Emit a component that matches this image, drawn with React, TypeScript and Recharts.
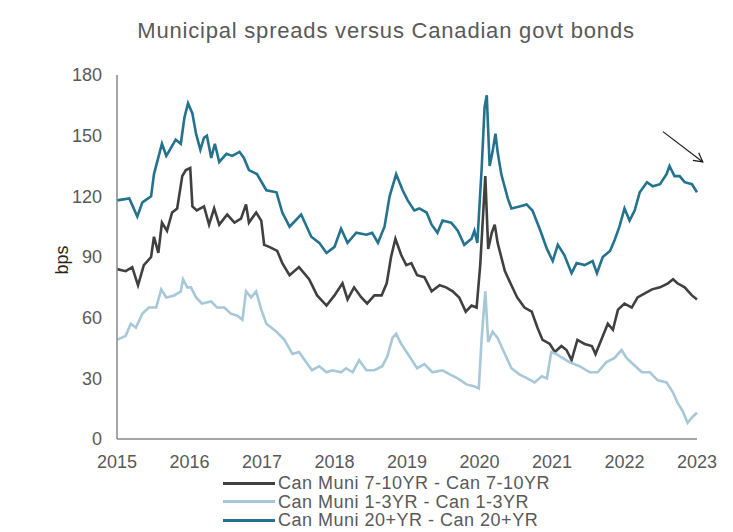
import { Line, LineChart, ReferenceLine, XAxis, YAxis } from "recharts";

const FONT = '"Liberation Sans", Arial, sans-serif';
const TEXT = "#595959";

const title = "Municipal spreads versus Canadian govt bonds";
const yearTicks = [2015, 2016, 2017, 2018, 2019, 2020, 2021, 2022, 2023];
const bpsTicks = [0, 30, 60, 90, 120, 150, 180];

// Can Muni 7-10YR - Can 7-10YR
const mid710Dates = [
  2015.0, 2015.12, 2015.21, 2015.29, 2015.37, 2015.47, 2015.51, 2015.57, 2015.62, 2015.69, 2015.76, 2015.83, 2015.9, 2015.95,
  2016.01, 2016.04, 2016.1, 2016.2, 2016.27, 2016.34, 2016.41, 2016.52, 2016.62, 2016.71, 2016.78, 2016.82, 2016.92, 2016.99,
  2017.03, 2017.1, 2017.21, 2017.28, 2017.38, 2017.51, 2017.65, 2017.76, 2017.89,
  2018.0, 2018.11, 2018.18, 2018.27, 2018.37, 2018.45, 2018.55, 2018.65, 2018.72, 2018.78, 2018.84, 2018.92, 2018.99,
  2019.06, 2019.14, 2019.24, 2019.34, 2019.45, 2019.54, 2019.63, 2019.72, 2019.81, 2019.89, 2019.96,
  2020.01, 2020.08, 2020.12, 2020.17, 2020.21, 2020.25, 2020.35, 2020.44, 2020.52, 2020.62, 2020.72, 2020.8, 2020.87, 2020.97,
  2021.04, 2021.13, 2021.2, 2021.27, 2021.35, 2021.45, 2021.55, 2021.6, 2021.69, 2021.77, 2021.84, 2021.91,
  2022.0, 2022.1, 2022.18, 2022.28, 2022.38, 2022.49, 2022.6, 2022.67, 2022.73, 2022.83, 2022.93, 2023.0,
];
const mid710Bps = [
  84, 83, 85, 76, 86, 90, 100, 92, 107, 103, 112, 114, 130, 133,
  134, 115, 113, 115, 106, 114, 106, 111, 107, 109, 116, 107, 112, 108,
  96, 95, 93, 87, 81, 85, 79, 71, 66,
  71, 77, 69, 75, 70, 67, 71, 71, 77, 90, 99, 91, 86,
  87, 81, 80, 73, 76, 75, 73, 70, 63, 66, 65,
  86, 130, 94, 102, 106, 97, 83, 76, 70, 65, 63, 55, 49, 47,
  43, 46, 44, 39, 49, 47, 46, 42, 50, 57, 54, 64,
  67, 65, 70, 72, 74, 75, 77, 79, 77, 75, 71, 69,
];

// Can Muni 1-3YR - Can 1-3YR
const short13Dates = [
  2015.0, 2015.12, 2015.19, 2015.26, 2015.35, 2015.44, 2015.54, 2015.61, 2015.68, 2015.79, 2015.88, 2015.91, 2015.97,
  2016.02, 2016.09, 2016.17, 2016.3, 2016.38, 2016.48, 2016.57, 2016.66, 2016.73, 2016.78, 2016.85, 2016.92, 2016.99,
  2017.06, 2017.2, 2017.31, 2017.42, 2017.51, 2017.61, 2017.69, 2017.79, 2017.89, 2017.97,
  2018.09, 2018.16, 2018.25, 2018.34, 2018.44, 2018.55, 2018.66, 2018.73, 2018.8, 2018.85, 2018.92,
  2019.03, 2019.14, 2019.24, 2019.35, 2019.49, 2019.59, 2019.7, 2019.82, 2019.93, 2019.99,
  2020.03, 2020.08, 2020.12, 2020.18, 2020.25, 2020.35, 2020.44, 2020.55, 2020.66, 2020.76, 2020.86, 2020.93, 2020.99,
  2021.06, 2021.15, 2021.24, 2021.38, 2021.52, 2021.63, 2021.75, 2021.86, 2021.96,
  2022.03, 2022.12, 2022.24, 2022.35, 2022.46, 2022.58, 2022.67, 2022.73, 2022.8, 2022.87, 2022.94, 2023.0,
];
const short13Bps = [
  49, 51, 57, 55, 62, 65, 65, 74, 70, 71, 73, 79, 75,
  75, 70, 67, 68, 65, 65, 62, 61, 59, 73, 70, 73, 64,
  57, 53, 49, 42, 43, 38, 34, 36, 33, 34,
  33, 35, 33, 39, 34, 34, 36, 41, 50, 52, 47,
  41, 35, 37, 33, 34, 32, 30, 27, 26, 25,
  50, 73, 48, 53, 50, 42, 35, 32, 30, 28, 31, 30, 43,
  42, 40, 38, 36, 33, 33, 38, 40, 44,
  40, 37, 33, 33, 29, 28, 23, 18, 14, 8, 11, 13,
];

// Can Muni 20+YR - Can 20+YR
const long20Dates = [
  2015.0, 2015.17, 2015.28, 2015.35, 2015.47, 2015.51, 2015.62, 2015.68, 2015.81, 2015.88, 2015.93, 2015.98,
  2016.04, 2016.09, 2016.15, 2016.2, 2016.24, 2016.3, 2016.35, 2016.41, 2016.51, 2016.59, 2016.69, 2016.75, 2016.82, 2016.93,
  2017.06, 2017.2, 2017.28, 2017.38, 2017.54, 2017.68, 2017.79, 2017.89,
  2018.0, 2018.09, 2018.18, 2018.3, 2018.44, 2018.52, 2018.6, 2018.69, 2018.76, 2018.85, 2018.94,
  2019.01, 2019.1, 2019.17, 2019.27, 2019.34, 2019.42, 2019.49, 2019.61, 2019.7, 2019.79, 2019.89, 2019.93, 2019.97,
  2020.03, 2020.07, 2020.1, 2020.14, 2020.18, 2020.22, 2020.25, 2020.3, 2020.39, 2020.44, 2020.55, 2020.65, 2020.73, 2020.83, 2020.93,
  2021.01, 2021.08, 2021.17, 2021.27, 2021.34, 2021.45, 2021.56, 2021.62, 2021.7, 2021.8, 2021.86, 2021.93,
  2022.0, 2022.07, 2022.14, 2022.21, 2022.31, 2022.39, 2022.49, 2022.58, 2022.62, 2022.69, 2022.76, 2022.83, 2022.93, 2023.0,
];
const long20Bps = [
  118, 119, 110, 117, 120, 131, 146, 140, 148, 146, 159, 166,
  161, 151, 143, 149, 150, 139, 146, 137, 141, 140, 142, 139, 133, 131,
  123, 122, 112, 105, 111, 100, 97, 92,
  95, 104, 97, 102, 101, 102, 97, 105, 120, 131, 123,
  118, 113, 114, 112, 106, 102, 108, 107, 103, 96, 99, 103, 97,
  134, 164, 170, 135, 142, 151, 142, 131, 119, 114, 115, 116, 113, 104, 94,
  88, 96, 91, 82, 87, 86, 88, 82, 90, 93, 98, 105,
  114, 108, 113, 122, 127, 125, 126, 131, 135, 130, 130, 127, 126, 122,
];

// annotation arrow (start/end in axis units)
const arrowFrom = { x: 2022.53, y: 152 };
const arrowTo = { x: 2023.08, y: 137 };

function zip(dates: number[], values: number[]) {
  return dates.map((t, i) => ({ t, v: values[i] }));
}

const series = [
  { name: "Can Muni 7-10YR - Can 7-10YR", color: "#404040", data: zip(mid710Dates, mid710Bps) },
  { name: "Can Muni 1-3YR - Can 1-3YR", color: "#a6c8d9", data: zip(short13Dates, short13Bps) },
  { name: "Can Muni 20+YR - Can 20+YR", color: "#23728e", data: zip(long20Dates, long20Bps) },
];

function Arrow(props: any) {
  const { x1, y1, x2, y2 } = props;
  if ([x1, y1, x2, y2].some((n) => typeof n !== "number" || isNaN(n))) return null;
  const ang = Math.atan2(y2 - y1, x2 - x1);
  const len = 10;
  const spread = 0.5;
  const ax = x2 - len * Math.cos(ang - spread);
  const ay = y2 - len * Math.sin(ang - spread);
  const bx = x2 - len * Math.cos(ang + spread);
  const by = y2 - len * Math.sin(ang + spread);
  return (
    <g>
      <line x1={x1} y1={y1} x2={x2} y2={y2} stroke="#1a1a1a" strokeWidth={1.2} />
      <polyline points={`${ax},${ay} ${x2},${y2} ${bx},${by}`} fill="none" stroke="#1a1a1a" strokeWidth={1.2} />
    </g>
  );
}

const tickStyle = { fontSize: 18, fill: TEXT, fontFamily: FONT };

export default function App() {
  return (
    <div style={{ position: "absolute", left: 0, top: 0, width: 733, height: 532, background: "#fff", fontFamily: FONT }}>
      <div
        style={{
          position: "absolute",
          left: 386,
          top: 19,
          transform: "translateX(-50%)",
          whiteSpace: "nowrap",
          fontSize: 22,
          letterSpacing: 0.8,
          lineHeight: "24px",
          color: TEXT,
        }}
      >
        {title}
      </div>
      <LineChart width={733} height={532} margin={{ top: 75, right: 36, left: 0, bottom: 63 }}>
        <XAxis
          dataKey="t"
          type="number"
          domain={[2015, 2023]}
          ticks={yearTicks}
          allowDuplicatedCategory={false}
          height={30}
          tickSize={0}
          tickMargin={16}
          tick={tickStyle}
          axisLine={{ stroke: "#898989", strokeWidth: 1.5 }}
          tickLine={false}
        />
        <YAxis
          type="number"
          domain={[0, 180]}
          ticks={bpsTicks}
          width={117}
          tickSize={0}
          tickMargin={15}
          tick={tickStyle}
          axisLine={{ stroke: "#898989", strokeWidth: 1.5 }}
          tickLine={false}
          label={{ value: "bps", angle: -90, position: "center", dx: 3, dy: 3, fontSize: 18, fill: "#262626", fontFamily: FONT }}
        />
        {series.map((s) => (
          <Line
            key={s.name}
            data={s.data}
            dataKey="v"
            name={s.name}
            type="linear"
            stroke={s.color}
            strokeWidth={2.6}
            dot={false}
            activeDot={false}
            isAnimationActive={false}
          />
        ))}
        <ReferenceLine segment={[arrowFrom, arrowTo]} ifOverflow="visible" shape={Arrow} />
      </LineChart>
      <div style={{ position: "absolute", left: 223, top: 474 }}>
        {series.map((s) => (
          <div key={s.name} style={{ display: "flex", alignItems: "center", height: 18.5 }}>
            <span style={{ display: "inline-block", width: 52, height: 3, background: s.color, marginRight: 3 }} />
            <span style={{ fontSize: 18, letterSpacing: 0.5, color: TEXT, lineHeight: "18px", whiteSpace: "nowrap" }}>
              {s.name}
            </span>
          </div>
        ))}
      </div>
    </div>
  );
}
